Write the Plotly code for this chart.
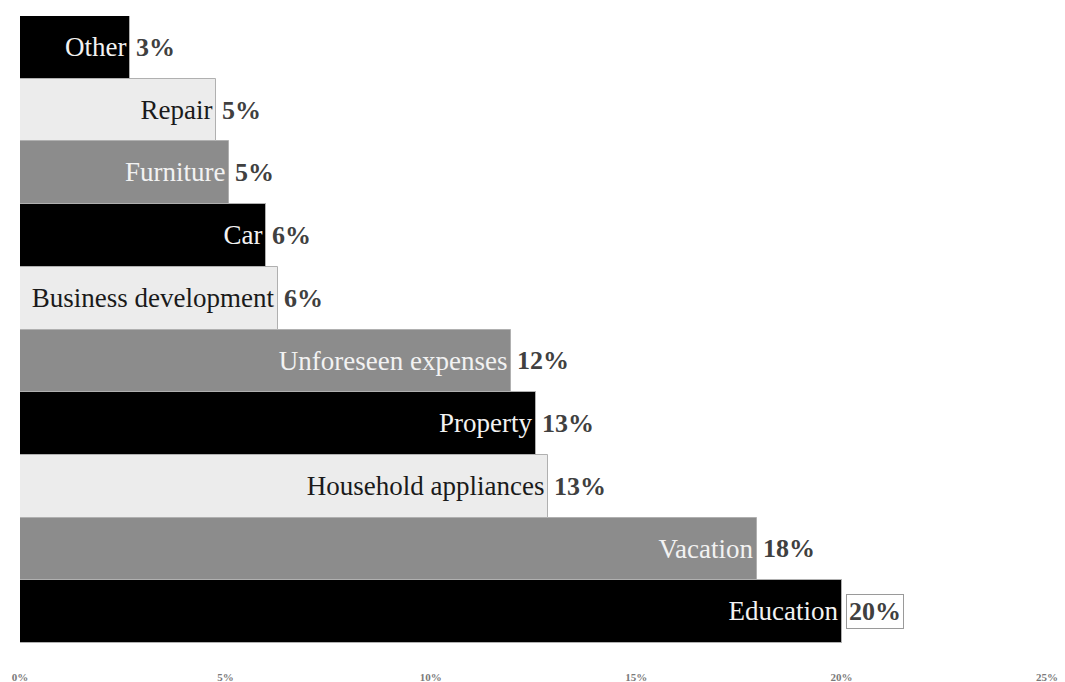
import plotly.graph_objects as go

categories = ["Education", "Vacation", "Household appliances", "Property",
              "Unforeseen expenses", "Business development", "Car",
              "Furniture", "Repair", "Other"]
values = [20.02, 17.93, 12.85, 12.56, 11.95, 6.28, 5.99, 5.09, 4.77, 2.68]
pct_labels = ["20%", "18%", "13%", "13%", "12%", "6%", "6%", "5%", "5%", "3%"]
bar_colors = ["#000000", "#8c8c8c", "#ececec", "#000000", "#8c8c8c",
              "#ececec", "#000000", "#8c8c8c", "#ececec", "#000000"]
text_colors = ["#f2f2f2", "#f2f2f2", "#1a1a1a", "#f2f2f2", "#f2f2f2",
               "#1a1a1a", "#f2f2f2", "#f2f2f2", "#1a1a1a", "#f2f2f2"]
tick_vals = [0, 5, 10, 15, 20, 25]
tick_text = ["0%", "5%", "10%", "15%", "20%", "25%"]

SERIF = "Liberation Serif, Times New Roman, serif"

fig = go.Figure(go.Bar(
    y=categories, x=values, orientation="h",
    marker=dict(color=bar_colors, line=dict(color="#b0b0b0", width=1)),
    text=categories, textposition="inside", insidetextanchor="end",
    textfont=dict(family=SERIF, size=27, color=text_colors),
    constraintext="none", cliponaxis=False, hoverinfo="skip",
))

for i, (c, v, t) in enumerate(zip(categories, values, pct_labels)):
    boxed = (i == 0)
    fig.add_annotation(
        x=v, y=c, text="<b>%s</b>" % t, showarrow=False,
        xanchor="left", yanchor="middle", xshift=4 if boxed else 3,
        font=dict(family=SERIF, size=26, color="#404040"),
        bordercolor="#9a9a9a" if boxed else "rgba(0,0,0,0)",
        borderwidth=1, borderpad=2, bgcolor="white" if boxed else None,
    )

fig.update_layout(
    width=1065, height=682,
    margin=dict(l=20, r=18, t=16, b=39),
    paper_bgcolor="white", plot_bgcolor="white",
    bargap=0, showlegend=False,
    xaxis=dict(range=[0, 25], tickvals=tick_vals, ticktext=tick_text,
               showgrid=False, zeroline=False, showline=False,
               automargin=False, ticklabelstandoff=26,
               tickfont=dict(family=SERIF, size=11, color="#7a7a7a", weight="bold")),
    yaxis=dict(showticklabels=False, showgrid=False, zeroline=False,
               showline=False, automargin=False, range=[-0.5, 9.5]),
)

fig.write_html("out.html", config={"displayModeBar": False},
               post_script="document.body.style.margin='0';document.body.style.overflow='hidden';")
